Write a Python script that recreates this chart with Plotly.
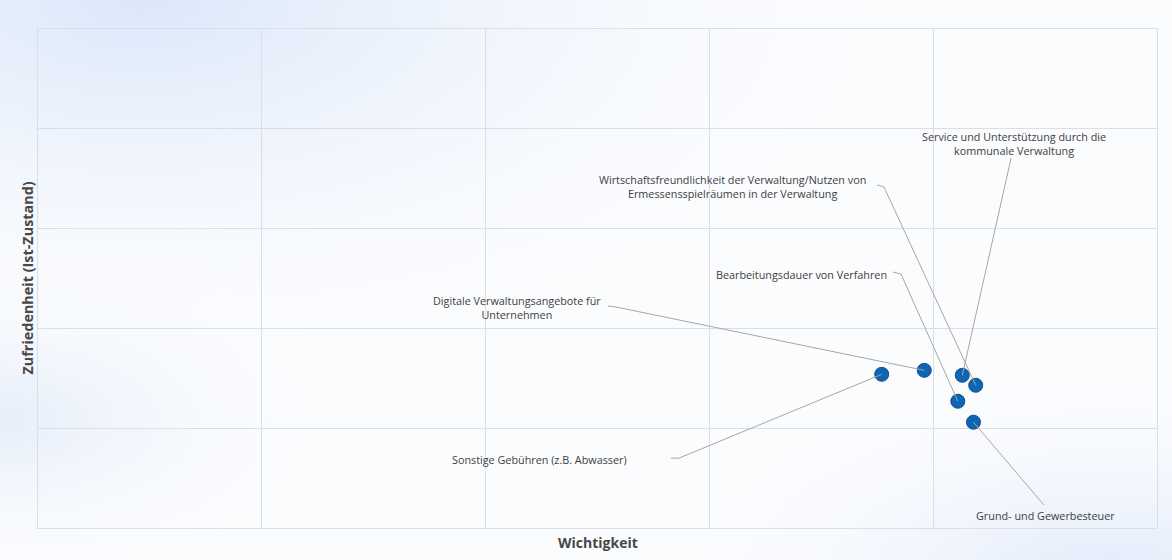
import base64
import plotly.graph_objects as go

# ---- data ----
categories = [
    "Sonstige Gebühren (z.B. Abwasser)",
    "Digitale Verwaltungsangebote für<br>Unternehmen",
    "Service und Unterstützung durch die<br>kommunale Verwaltung",
    "Wirtschaftsfreundlichkeit der Verwaltung/Nutzen von<br>Ermessensspielräumen in der Verwaltung",
    "Bearbeitungsdauer von Verfahren",
    "Grund- und Gewerbesteuer",
]
wichtigkeit = [3.77, 3.96, 4.13, 4.19, 4.11, 4.18]
zufriedenheit = [1.54, 1.58, 1.53, 1.43, 1.27, 1.06]

# ---- label layout (label centre, leader start, optional elbow) ----
label_pos = [
    (2.24, 0.69), (2.14, 2.21), (4.36, 3.85), (3.105, 3.42), (3.41, 2.545), (4.50, 0.123)
]
leader_start = [
    [(2.828, 0.70), (2.864, 0.70)],
    [(2.547, 2.224), (2.583, 2.214)],
    [(4.348, 3.707)],
    [(3.749, 3.437), (3.780, 3.417)],
    [(3.820, 2.565), (3.856, 2.545)],
    [(4.495, 0.23)],
]

W, H = 1172, 560
ml, mr, mt, mb = 38, 15, 29, 32
pw, ph = W - ml - mr, H - mt - mb

LABEL_FONT = "Open Sans, Liberation Sans, Arial, sans-serif"

svg = f"""<svg xmlns='http://www.w3.org/2000/svg' width='{W}' height='{H}' viewBox='0 0 {W} {H}'>
<defs>
<radialGradient id='a' cx='0.12' cy='0.0' r='0.75'>
<stop offset='0' stop-color='#dbe7fa'/><stop offset='1' stop-color='#ffffff' stop-opacity='0'/></radialGradient>
<radialGradient id='b' cx='0.95' cy='1.05' r='0.45'>
<stop offset='0' stop-color='#dfe9fa'/><stop offset='1' stop-color='#ffffff' stop-opacity='0'/></radialGradient>
<radialGradient id='c' cx='0.0' cy='0.75' r='0.35'>
<stop offset='0' stop-color='#e6eefa'/><stop offset='1' stop-color='#ffffff' stop-opacity='0'/></radialGradient>
</defs>
<rect width='{W}' height='{H}' fill='#fbfcfe'/>
<rect width='{W}' height='{H}' fill='url(#a)'/>
<rect width='{W}' height='{H}' fill='url(#b)'/>
<rect width='{W}' height='{H}' fill='url(#c)'/>
</svg>"""
bg_uri = "data:image/svg+xml;base64," + base64.b64encode(svg.encode()).decode()

fig = go.Figure()

fig.add_trace(go.Scatter(
    x=wichtigkeit, y=zufriedenheit, mode="markers",
    marker=dict(size=14, color="#0b66b8", line=dict(color="#1c4d7e", width=1)),
    hoverinfo="text", text=categories, showlegend=False,
))

for i, name in enumerate(categories):
    pts = leader_start[i] + [(wichtigkeit[i], zufriedenheit[i])]
    fig.add_trace(go.Scatter(
        x=[p[0] for p in pts], y=[p[1] for p in pts], mode="lines",
        line=dict(color="#a6a6a6", width=1), hoverinfo="skip", showlegend=False,
    ))
    fig.add_annotation(
        x=label_pos[i][0], y=label_pos[i][1], text=name, showarrow=False,
        xref="x", yref="y", align="center", xanchor="center", yanchor="middle",
        font=dict(family=LABEL_FONT, size=10.8, color="#404040"),
    )

fig.add_annotation(
    x=0.5, y=0, xref="paper", yref="paper", xanchor="center", yanchor="middle",
    yshift=-14, text="<b>Wichtigkeit</b>", showarrow=False,
    font=dict(family=LABEL_FONT, size=14, color="#474747"),
)
fig.add_annotation(
    x=0, y=0.5, xref="paper", yref="paper", xanchor="center", yanchor="middle",
    xshift=-11, text="<b>Zufriedenheit (Ist-Zustand)</b>",
    textangle=-90, showarrow=False,
    font=dict(family=LABEL_FONT, size=14.4, color="#474747"),
)

axis_common = dict(
    showticklabels=False, ticks="", dtick=1, tick0=0,
    showgrid=True, gridcolor="#dadee6", gridwidth=1,
    showline=True, linecolor="#dadee6", linewidth=1, mirror=True,
    zeroline=False, fixedrange=True,
)
fig.update_xaxes(range=[0, 5], **axis_common)
fig.update_yaxes(range=[0, 5], **axis_common)

fig.update_layout(
    width=W, height=H,
    margin=dict(l=ml, r=mr, t=mt, b=mb),
    paper_bgcolor="#ffffff", plot_bgcolor="rgba(0,0,0,0)",
    images=[dict(
        source=bg_uri, xref="paper", yref="paper",
        x=-ml / pw, y=1 + mt / ph, sizex=W / pw, sizey=H / ph,
        sizing="stretch", layer="below", xanchor="left", yanchor="top",
    )],
)

fig.write_html("out.html", config={"displayModeBar": False},
               post_script="document.body.style.margin='0';")
